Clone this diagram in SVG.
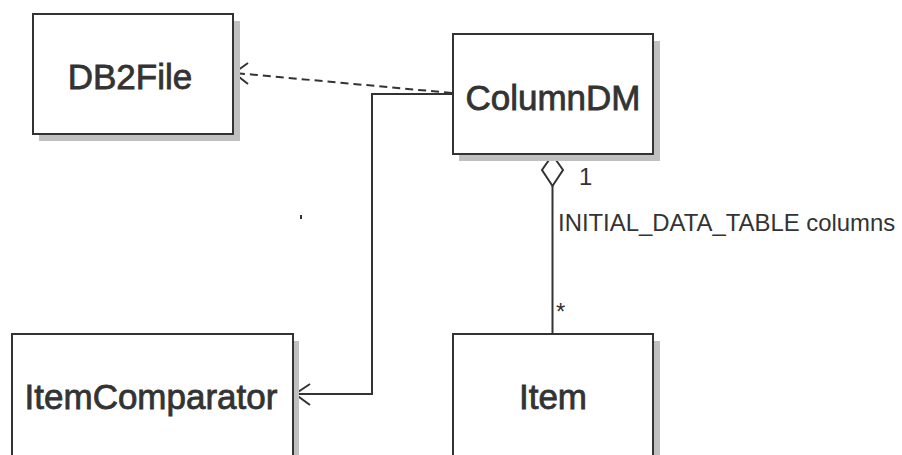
<svg xmlns="http://www.w3.org/2000/svg" width="902" height="455" viewBox="0 0 902 455">
<style>
.shadow{fill:#c0c0c0;stroke:none}
.box{fill:#ffffff;stroke:#333333;stroke-width:2}
.name{font-family:"Liberation Sans",Arial,sans-serif;font-size:35px;fill:#333333;stroke:#333333;stroke-width:0.8;text-anchor:middle}
.lbl{font-family:"Liberation Sans",Arial,sans-serif;font-size:23.9px;fill:#333333}
.ln{fill:none;stroke:#333333;stroke-width:2}
.dash{fill:none;stroke:#333333;stroke-width:2;stroke-dasharray:8,5}
</style>
<rect width="902" height="455" fill="#ffffff"/>
<g id="connectors">
<path class="dash" d="M452,93 L235,73"/>
<path class="ln" d="M248,63 L234,73 L248,84"/>
<path class="ln" d="M452,94 L372,94 L372,394 L295,394"/>
<path class="ln" d="M310,384 L295,394 L310,405"/>
<path class="ln" d="M552.5,186 L552.5,334"/>
<path fill="#ffffff" stroke="#333333" stroke-width="2" d="M552.5,155 L563,170 L552.5,186 L542,170 Z"/>
<text class="lbl" x="579" y="185">1</text>
<text class="lbl" x="558" y="231">INITIAL_DATA_TABLE columns</text>
<text class="lbl" x="556" y="320">*</text>
</g>
<g id="DB2File">
<rect class="shadow" x="39" y="21" width="201" height="120"/>
<rect class="box" x="33" y="14" width="200" height="120"/>
<text class="name" x="130" y="89">DB2File</text>
</g>
<g id="ColumnDM">
<rect class="shadow" x="459" y="41" width="201" height="120"/>
<rect class="box" x="453" y="34" width="200" height="120"/>
<text class="name" x="553" y="110">ColumnDM</text>
</g>
<g id="ItemComparator">
<rect class="shadow" x="18" y="341" width="281" height="130"/>
<rect class="box" x="12" y="334" width="281" height="130"/>
<text class="name" x="151" y="409">ItemComparator</text>
</g>
<g id="Item">
<rect class="shadow" x="459" y="341" width="201" height="130"/>
<rect class="box" x="453" y="334" width="200" height="130"/>
<text class="name" x="553" y="409">Item</text>
</g>
<rect x="300" y="215" width="2" height="4" fill="#333333"/>
</svg>
